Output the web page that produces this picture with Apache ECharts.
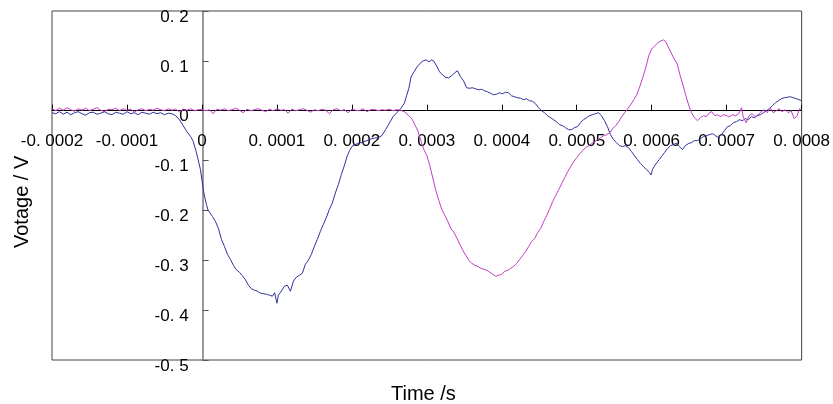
<!DOCTYPE html>
<html>
<head>
<meta charset="utf-8">
<script src="https://cdn.jsdelivr.net/npm/echarts@6/dist/echarts.min.js"></script>
<style>
html,body{margin:0;padding:0;background:#fff;}
#chart{width:833px;height:404px;}
</style>
</head>
<body>
<div id="chart"></div>
<script>
// time in microseconds, voltage in V
var xTicks = [-200, -100, 0, 100, 200, 300, 400, 500, 600, 700, 800];
var yTicks = [-0.5, -0.4, -0.3, -0.2, -0.1, 0, 0.1, 0.2];

var blueTime = [-200,-195,-190,-185,-180,-175,-170,-165,-160,-155,-150,-145,-140,-135,-130,-125,-120,-115,-110,-105,-100,-95,-90,-85,-80,-75,-70,-65,-60,-55,-50,-45,-40,-35,-30,-25,-20,-15,-12,-8,-4,-2,0,2,4,6,8,10,14,18,22,26,30,34,38,42,46,50,54,58,62,66,70,74,78,82,86,90,94,97,100,102,105,110,114,118,122,126,130,134,138,142,146,150,154,158,162,166,170,174,178,182,186,190,194,197,200,204,208,212,216,220,225,230,235,240,245,250,255,260,265,270,273,276,279,283,287,291,295,299,303,306,309,313,317,321,325,329,333,337,341,345,349,353,357,361,365,369,373,377,381,385,389,393,397,401,405,409,413,417,421,425,429,433,437,441,445,449,453,457,461,465,469,473,477,481,485,489,493,497,501,505,509,513,517,521,525,529,533,537,541,545,549,553,557,561,565,569,573,577,581,585,589,593,597,599,601,604,607,610,613,617,621,625,629,633,637,641,645,649,653,657,661,665,669,673,677,681,685,689,693,697,701,705,709,713,717,721,725,729,733,737,741,745,749,753,757,761,765,769,773,777,781,785,789,793,797,800];
var blueVolt = [-0.004,-0.006,-0.002,-0.007,-0.003,-0.008,-0.004,-0.002,-0.006,-0.009,-0.004,-0.003,-0.007,-0.005,-0.002,-0.006,-0.008,-0.003,-0.005,-0.007,-0.002,-0.006,-0.004,-0.008,-0.003,-0.005,-0.007,-0.003,-0.006,-0.004,-0.008,-0.005,-0.006,-0.010,-0.018,-0.030,-0.042,-0.052,-0.060,-0.080,-0.105,-0.118,-0.139,-0.160,-0.175,-0.188,-0.199,-0.203,-0.212,-0.222,-0.236,-0.258,-0.272,-0.288,-0.298,-0.310,-0.319,-0.324,-0.331,-0.339,-0.350,-0.357,-0.360,-0.362,-0.366,-0.367,-0.368,-0.370,-0.372,-0.365,-0.386,-0.370,-0.364,-0.352,-0.350,-0.362,-0.342,-0.334,-0.330,-0.326,-0.308,-0.300,-0.288,-0.272,-0.258,-0.242,-0.228,-0.214,-0.198,-0.185,-0.165,-0.148,-0.128,-0.110,-0.090,-0.080,-0.072,-0.068,-0.066,-0.064,-0.062,-0.060,-0.057,-0.055,-0.054,-0.050,-0.038,-0.025,-0.012,-0.004,0.004,0.015,0.030,0.045,0.068,0.078,0.088,0.095,0.100,0.102,0.098,0.102,0.100,0.090,0.078,0.072,0.067,0.066,0.070,0.076,0.080,0.068,0.060,0.046,0.045,0.046,0.044,0.042,0.043,0.040,0.038,0.035,0.032,0.033,0.036,0.034,0.037,0.036,0.030,0.028,0.026,0.025,0.022,0.024,0.020,0.019,0.014,0.006,0.000,-0.004,-0.010,-0.014,-0.018,-0.022,-0.028,-0.030,-0.034,-0.038,-0.038,-0.034,-0.032,-0.024,-0.018,-0.014,-0.010,-0.008,-0.006,-0.004,-0.010,-0.020,-0.032,-0.048,-0.058,-0.064,-0.070,-0.072,-0.070,-0.074,-0.082,-0.090,-0.098,-0.106,-0.112,-0.118,-0.124,-0.129,-0.118,-0.110,-0.104,-0.098,-0.092,-0.084,-0.076,-0.070,-0.068,-0.065,-0.072,-0.078,-0.070,-0.066,-0.064,-0.060,-0.060,-0.056,-0.052,-0.050,-0.048,-0.046,-0.050,-0.054,-0.048,-0.040,-0.032,-0.030,-0.024,-0.022,-0.018,-0.020,-0.016,-0.018,-0.012,-0.014,-0.010,-0.008,-0.004,0.000,0.004,0.010,0.016,0.020,0.024,0.026,0.027,0.028,0.026,0.024,0.022,0.020];

var magentaTime = [-200,-195,-190,-185,-180,-175,-170,-165,-160,-155,-150,-145,-140,-135,-130,-125,-120,-115,-110,-105,-100,-95,-90,-85,-80,-75,-70,-65,-60,-55,-50,-45,-40,-35,-30,-25,-20,-15,-10,-5,0,5,10,15,20,25,30,35,40,45,50,55,60,65,70,75,80,85,90,95,100,105,110,115,120,125,130,135,140,145,150,155,160,165,170,175,180,185,190,195,200,205,210,215,220,225,230,235,240,245,250,255,260,265,270,272,276,280,284,288,292,296,300,304,308,312,316,320,324,328,332,336,340,344,348,352,356,360,364,368,372,376,380,384,388,392,396,400,404,408,412,416,420,424,428,432,436,440,444,448,452,456,460,464,468,472,476,480,484,488,492,496,500,504,508,512,516,520,524,528,532,536,540,544,548,552,556,560,564,568,572,576,580,584,588,592,596,600,604,608,612,616,619,622,626,630,634,638,642,646,650,653,657,661,665,669,673,677,680,684,688,692,696,700,704,708,712,716,720,722,726,730,734,738,742,746,750,754,758,762,766,770,774,778,782,786,790,794,797,800];
var magentaVolt = [0.004,0.000,0.005,0.001,0.006,0.002,-0.001,0.004,0.001,0.005,0.000,0.003,0.006,0.001,-0.002,0.003,0.002,0.005,0.000,0.004,0.001,0.003,-0.003,0.002,0.004,0.000,0.003,0.001,0.005,0.002,0.000,0.004,0.001,0.003,-0.002,0.002,0.001,0.004,0.000,0.002,0.003,0.000,0.002,-0.006,0.003,0.001,0.004,0.000,0.002,0.005,0.001,-0.004,0.003,0.000,0.002,0.004,0.001,-0.002,0.003,0.000,0.004,0.001,0.002,-0.005,0.003,0.000,0.002,0.004,0.001,-0.003,0.002,0.000,0.003,0.001,-0.006,0.002,0.004,0.000,0.002,-0.004,0.003,0.001,0.000,0.004,-0.002,0.002,0.003,0.000,0.002,0.001,0.003,0.000,0.002,0.001,-0.002,-0.004,-0.010,-0.016,-0.028,-0.040,-0.060,-0.078,-0.090,-0.110,-0.135,-0.160,-0.180,-0.198,-0.210,-0.222,-0.236,-0.244,-0.255,-0.268,-0.280,-0.290,-0.300,-0.306,-0.310,-0.312,-0.316,-0.318,-0.320,-0.324,-0.328,-0.332,-0.330,-0.328,-0.322,-0.320,-0.316,-0.312,-0.306,-0.298,-0.290,-0.282,-0.272,-0.262,-0.256,-0.244,-0.236,-0.222,-0.210,-0.196,-0.182,-0.170,-0.158,-0.146,-0.134,-0.122,-0.112,-0.102,-0.094,-0.086,-0.080,-0.074,-0.070,-0.066,-0.062,-0.058,-0.054,-0.050,-0.048,-0.044,-0.036,-0.030,-0.022,-0.012,-0.004,0.004,0.012,0.022,0.032,0.048,0.066,0.086,0.110,0.124,0.130,0.136,0.140,0.142,0.138,0.128,0.116,0.104,0.094,0.070,0.050,0.028,0.008,-0.004,-0.014,-0.020,-0.014,-0.010,-0.012,-0.004,-0.002,-0.010,-0.008,-0.012,-0.008,-0.010,-0.012,-0.008,-0.010,-0.006,0.006,-0.012,-0.024,-0.010,-0.006,-0.012,-0.008,-0.002,0.002,-0.004,0.006,-0.004,0.000,0.004,-0.002,0.002,-0.004,0.000,-0.016,-0.010,0.004,0.002];

function zip(a, b) { var r = []; for (var i = 0; i < a.length; i++) r.push([a[i], b[i]]); return r; }

function fmtNum(v, digits) {
  if (Math.abs(v) < 1e-12) return '0';
  var s = Math.abs(v).toFixed(digits);
  return (v < 0 ? '-' : '') + s.replace('.', '. ');
}

var FONT = 'Liberation Sans';
var G = {left: 52, right: 28, top: 11, bottom: 44};
var W = 833, H = 404;
var gw = W - G.left - G.right, gh = H - G.top - G.bottom;
var xMin = xTicks[0], xMax = xTicks[xTicks.length - 1];
var yMin = yTicks[0], yMax = yTicks[yTicks.length - 1];
// shift axes so they cross at the data origin (labels follow the axis)
var xOffset = -gh * (0 - yMin) / (yMax - yMin);
var yOffset = -gw * (0 - xMin) / (xMax - xMin);

var chart = echarts.init(document.getElementById('chart'), null, {renderer: 'canvas'});
chart.setOption({
  animation: false,
  backgroundColor: '#ffffff',
  grid: {left: G.left, right: G.right, top: G.top, bottom: G.bottom, show: true, borderColor: '#444', borderWidth: 1, backgroundColor: 'transparent'},
  xAxis: {
    type: 'value', min: xMin, max: xMax, interval: 100, position: 'bottom', offset: xOffset,
    axisLine: {onZero: false, lineStyle: {color: '#000', width: 1}},
    axisTick: {inside: true, length: 6, lineStyle: {color: '#000'}},
    axisLabel: {margin: 22, fontSize: 17, color: '#000', fontFamily: FONT, hideOverlap: false, showMinLabel: true, showMaxLabel: true,
      formatter: function (v) { return fmtNum(v / 1e6, 4); }},
    splitLine: {show: false}
  },
  yAxis: {
    type: 'value', min: yMin, max: yMax, interval: 0.1, position: 'left', offset: yOffset,
    axisLine: {onZero: false, lineStyle: {color: '#777', width: 1.5}},
    axisTick: {inside: true, length: 6, lineStyle: {color: '#555'}},
    axisLabel: {margin: 14, fontSize: 17, color: '#000', fontFamily: FONT, verticalAlign: 'top', lineHeight: 12, hideOverlap: false, showMinLabel: true, showMaxLabel: true,
      formatter: function (v) { return fmtNum(Math.round(v * 10) / 10, 1); }},
    splitLine: {show: false}
  },
  graphic: [
    {type: 'text', left: 391, top: 384, style: {text: 'Time /s', font: '20px "Liberation Sans"', fill: '#000'}},
    {type: 'text', x: 12, y: 248, rotation: Math.PI / 2, style: {text: 'Votage / V', font: '20px "Liberation Sans"', fill: '#000'}}
  ],
  series: [
    {type: 'line', name: 'ch1', data: zip(blueTime, blueVolt), showSymbol: false, lineStyle: {color: '#30309e', width: 1}, itemStyle: {color: '#30309e'}},
    {type: 'line', name: 'ch2', data: zip(magentaTime, magentaVolt), showSymbol: false, lineStyle: {color: '#c23cc6', width: 1}, itemStyle: {color: '#c23cc6'}}
  ]
});
</script>
</body>
</html>
